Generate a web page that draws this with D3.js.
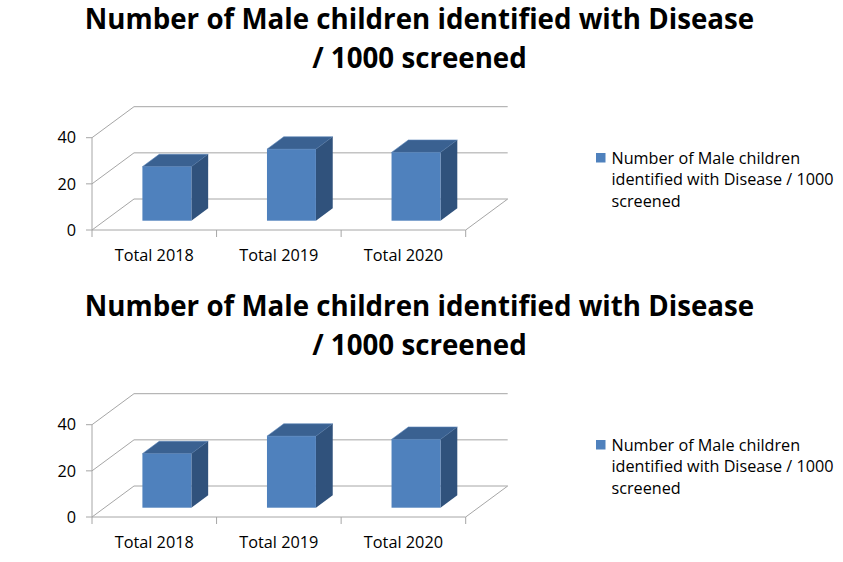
<!DOCTYPE html>
<html>
<head>
<meta charset="utf-8">
<script src="https://cdn.jsdelivr.net/npm/d3@7"></script>
<style>
  body { margin: 0; background: #fff; }
  text { font-family: "Open Sans", sans-serif; fill: #000; }
</style>
</head>
<body>
<div id="chart"></div>
<script>
let width = 843,
    height = 562;

// data
const categories = ["Total 2018", "Total 2019", "Total 2020"];
const values = [23.4, 31, 29.6];
const yTicks = [0, 20, 40];
const titleLines = ["Number of Male children identified with Disease", "/ 1000 screened"];
const legendLines = ["Number of Male children", "identified with Disease / 1000", "screened"];

const svg = d3.select("#chart")
  .append("svg")
  .attr("width", width)
  .attr("height", height)
  .attr("viewBox", [0, 0, width, height]);

const depth = { x: 42, y: -31 };   // offset from front to back wall
const barFront = 0.3, barBack = 0.7; // bar position in depth

function drawChart(top) {
  let g = svg.append("g").attr("transform", `translate(0,${top})`);

  let x = d3.scaleBand()
    .domain(categories)
    .range([92, 465.7]);

  let y = d3.scaleLinear()
    .domain([0, 40])
    .range([230, 137.7]);

  let grid = "#a6a6a6";

  // title
  g.selectAll(".title")
    .data(titleLines)
    .join("text")
    .attr("x", 419.5)
    .attr("y", (d, i) => 29 + i * 39)
    .attr("text-anchor", "middle")
    .attr("font-size", 27.7)
    .attr("font-weight", "bold")
    .text(d => d);

  // walls: left side gridlines + back gridlines
  for (let v of yTicks) {
    g.append("path")
      .attr("fill", "none")
      .attr("stroke", grid)
      .attr("d", `M${x.range()[0]},${y(v)}l${depth.x},${depth.y}L${x.range()[1] + depth.x},${y(v) + depth.y}`);
  }

  // floor front + right edge
  g.append("path")
    .attr("fill", "none")
    .attr("stroke", grid)
    .attr("d", `M${x.range()[0]},${y(0)}L${x.range()[1]},${y(0)}l${depth.x},${depth.y}`);

  // value axis
  g.append("line")
    .attr("stroke", grid)
    .attr("x1", x.range()[0]).attr("x2", x.range()[0])
    .attr("y1", y(40)).attr("y2", y(0));

  g.selectAll(".ytick")
    .data(yTicks)
    .join("line")
    .attr("stroke", grid)
    .attr("x1", x.range()[0] - 6).attr("x2", x.range()[0])
    .attr("y1", d => y(d)).attr("y2", d => y(d));

  g.selectAll(".ylabel")
    .data(yTicks)
    .join("text")
    .attr("x", 76)
    .attr("y", d => y(d))
    .attr("dy", "0.35em")
    .attr("text-anchor", "end")
    .attr("font-size", 16.3)
    .text(d => d);

  // category ticks and labels
  let edges = categories.map(c => x(c)).concat([x.range()[1]]);
  g.selectAll(".xtick")
    .data(edges)
    .join("line")
    .attr("stroke", grid)
    .attr("x1", d => d).attr("x2", d => d)
    .attr("y1", y(0)).attr("y2", y(0) + 7);

  g.selectAll(".xlabel")
    .data(categories)
    .join("text")
    .attr("x", d => x(d) + x.bandwidth() / 2)
    .attr("y", y(0) + 31)
    .attr("text-anchor", "middle")
    .attr("font-size", 16.3)
    .text(d => d);

  // bars
  let bw = x.bandwidth() * 0.393;
  let fx = depth.x * barFront, fy = depth.y * barFront;
  let bdx = depth.x * (barBack - barFront), bdy = depth.y * (barBack - barFront);

  let bars = g.selectAll(".bar")
    .data(categories.map((c, i) => ({ cat: c, value: values[i] })))
    .join("g");

  bars.each(function (d) {
    let b = d3.select(this);
    let x0 = x(d.cat) + (x.bandwidth() - bw) / 2 + fx;
    let x1 = x0 + bw;
    let yb = y(0) + fy;
    let yt = y(d.value) + fy;

    // top face
    b.append("path")
      .attr("fill", "#3a6191")
      .attr("stroke", "#5b84b8")
      .attr("stroke-width", 0.6)
      .attr("d", `M${x0},${yt}L${x1},${yt}l${bdx},${bdy}L${x0 + bdx},${yt + bdy}Z`);
    // side face
    b.append("path")
      .attr("fill", "#30527c")
      .attr("d", `M${x1},${yt}l${bdx},${bdy}L${x1 + bdx},${yb + bdy}L${x1},${yb}Z`);
    // front face
    b.append("rect")
      .attr("x", x0)
      .attr("y", yt)
      .attr("width", bw)
      .attr("height", yb - yt)
      .attr("fill", "#4f81bd");
  });

  // legend
  g.append("rect")
    .attr("x", 596).attr("y", 153)
    .attr("width", 9.5).attr("height", 9.5)
    .attr("fill", "#4f81bd");

  g.selectAll(".legend")
    .data(legendLines)
    .join("text")
    .attr("x", 611.5)
    .attr("y", (d, i) => 163.5 + i * 21.8)
    .attr("font-size", 16.2)
    .text(d => d);
}

drawChart(0);
drawChart(287);
</script>
</body>
</html>
